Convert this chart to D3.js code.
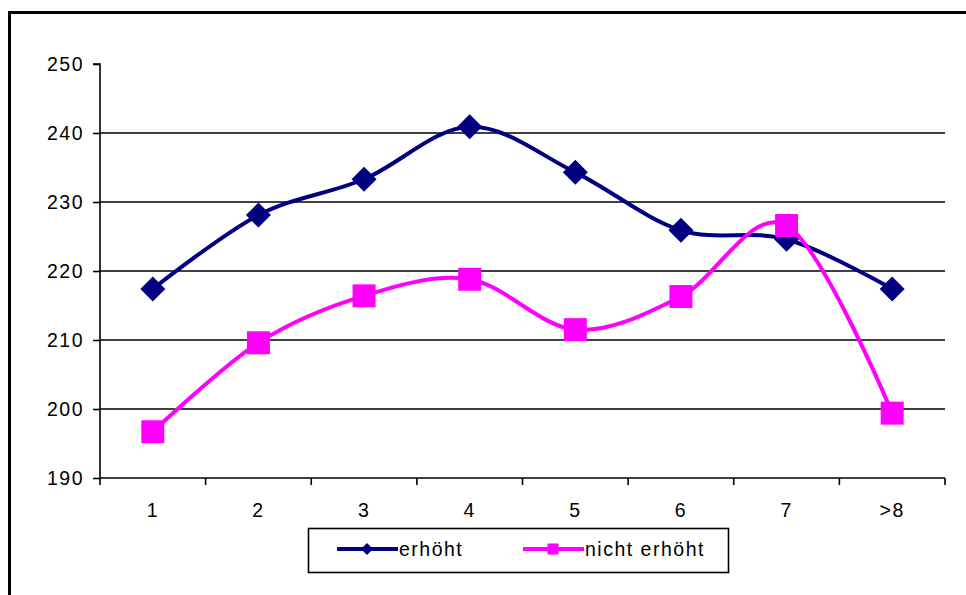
<!DOCTYPE html>
<html>
<head>
<meta charset="utf-8">
<script src="https://cdn.jsdelivr.net/npm/d3@7"></script>
<style>
  html, body { margin: 0; padding: 0; background: #fff; }
  svg { display: block; }
  text { font-family: "Liberation Sans", Arial, sans-serif; fill: #000; letter-spacing: 1.5px; }
</style>
</head>
<body>
<svg id="chart" width="966" height="595"></svg>
<script>
// Categories along the x axis
const categories = ["1", "2", "3", "4", "5", "6", "7", ">8"];
// Series values
const erhoeht = [217.4, 228.1, 233.3, 240.9, 234.3, 225.9, 224.6, 217.4];
const nichtErhoeht = [196.7, 209.6, 216.4, 218.8, 211.5, 216.3, 226.6, 199.4];
// Y axis ticks
const yTicks = [190, 200, 210, 220, 230, 240, 250];
const seriesNames = ["erhöht", "nicht erhöht"];
const seriesColors = ["#000080", "#ff00ff"];

const svg = d3.select("#chart");
const W = 966, H = 595;
const FONT = 19.5;

// Outer chart frame (right/bottom edges run past the visible area)
svg.append("rect")
  .attr("x", 9.5).attr("y", 12.5)
  .attr("width", W + 20).attr("height", H + 20)
  .attr("fill", "#fff").attr("stroke", "#000").attr("stroke-width", 3);

const plot = { left: 100, right: 945, top: 64, bottom: 478 };

const x = d3.scaleBand().domain(categories).range([plot.left, plot.right]).padding(0);
const y = d3.scaleLinear().domain([190, 250]).range([plot.bottom, plot.top]);
const cx = c => x(c) + x.bandwidth() / 2;

// Horizontal gridlines
svg.append("g")
  .selectAll("line")
  .data(yTicks.filter(t => t > 190 && t < 250))
  .join("line")
  .attr("x1", plot.left).attr("x2", plot.right)
  .attr("y1", d => y(d)).attr("y2", d => y(d))
  .attr("stroke", "#000").attr("stroke-width", 1.6);

// Y axis
const yAxis = d3.axisLeft(y).tickValues(yTicks).tickSize(7).tickPadding(9).tickFormat(d3.format("d"));
const gy = svg.append("g").attr("transform", `translate(${plot.left},0)`).call(yAxis);
gy.select(".domain").attr("stroke", "#000").attr("stroke-width", 1.6).attr("d", `M-7,${plot.top}H0V${plot.bottom}`);
gy.selectAll(".tick line").attr("stroke", "#000").attr("stroke-width", 1.6);
gy.selectAll(".tick text").attr("font-size", FONT).attr("font-family", "Liberation Sans, Arial, sans-serif").attr("fill", "#000");

// X axis with ticks at the category boundaries
const xAxis = d3.axisBottom(x).tickSize(0).tickPadding(25);
const gx = svg.append("g").attr("transform", `translate(0,${plot.bottom})`).call(xAxis);
gx.select(".domain").attr("stroke", "#000").attr("stroke-width", 1.6).attr("d", `M${plot.left},0H${plot.right}`);
gx.selectAll(".tick text").attr("font-size", FONT).attr("font-family", "Liberation Sans, Arial, sans-serif").attr("fill", "#000");
const boundaries = categories.map(c => x(c)).concat([x(categories[categories.length - 1]) + x.bandwidth()]);
gx.append("g").selectAll("line").data(boundaries).join("line")
  .attr("x1", d => d).attr("x2", d => d).attr("y1", 0).attr("y2", 7)
  .attr("stroke", "#000").attr("stroke-width", 1.6);

// Smoothed series lines
const line = d3.line().x((d, i) => cx(categories[i])).y(d => y(d)).curve(d3.curveCatmullRom.alpha(0));

const diamond = (s) => `M0,${-s}L${s},0L0,${s}L${-s},0Z`;
const square = (s) => `M${-s},${-s}H${s}V${s}H${-s}Z`;

svg.append("path").datum(erhoeht).attr("d", line)
  .attr("fill", "none").attr("stroke", seriesColors[0]).attr("stroke-width", 4);
svg.append("g").selectAll("path").data(erhoeht).join("path")
  .attr("transform", (d, i) => `translate(${cx(categories[i])},${y(d)})`)
  .attr("d", diamond(12.5)).attr("fill", seriesColors[0]);

svg.append("path").datum(nichtErhoeht).attr("d", line)
  .attr("fill", "none").attr("stroke", seriesColors[1]).attr("stroke-width", 4);
svg.append("g").selectAll("path").data(nichtErhoeht).join("path")
  .attr("transform", (d, i) => `translate(${cx(categories[i])},${y(d)})`)
  .attr("d", square(11.5)).attr("fill", seriesColors[1]);

// Legend
const legend = svg.append("g");
legend.append("rect").attr("x", 308.5).attr("y", 528.5).attr("width", 420).attr("height", 44)
  .attr("fill", "#fff").attr("stroke", "#000").attr("stroke-width", 1.6);
const legendItems = [
  { name: seriesNames[0], color: seriesColors[0], x0: 337, marker: diamond(6) },
  { name: seriesNames[1], color: seriesColors[1], x0: 523, marker: square(5.5) }
];
legendItems.forEach(it => {
  const g = legend.append("g");
  g.append("line").attr("x1", it.x0).attr("x2", it.x0 + 61).attr("y1", 549).attr("y2", 549)
    .attr("stroke", it.color).attr("stroke-width", 4);
  g.append("path").attr("transform", `translate(${it.x0 + 30},549)`).attr("d", it.marker).attr("fill", it.color);
  g.append("text").attr("x", it.x0 + 62).attr("y", 549).attr("dy", "0.35em")
    .attr("font-size", FONT).text(it.name);
});
</script>
</body>
</html>
